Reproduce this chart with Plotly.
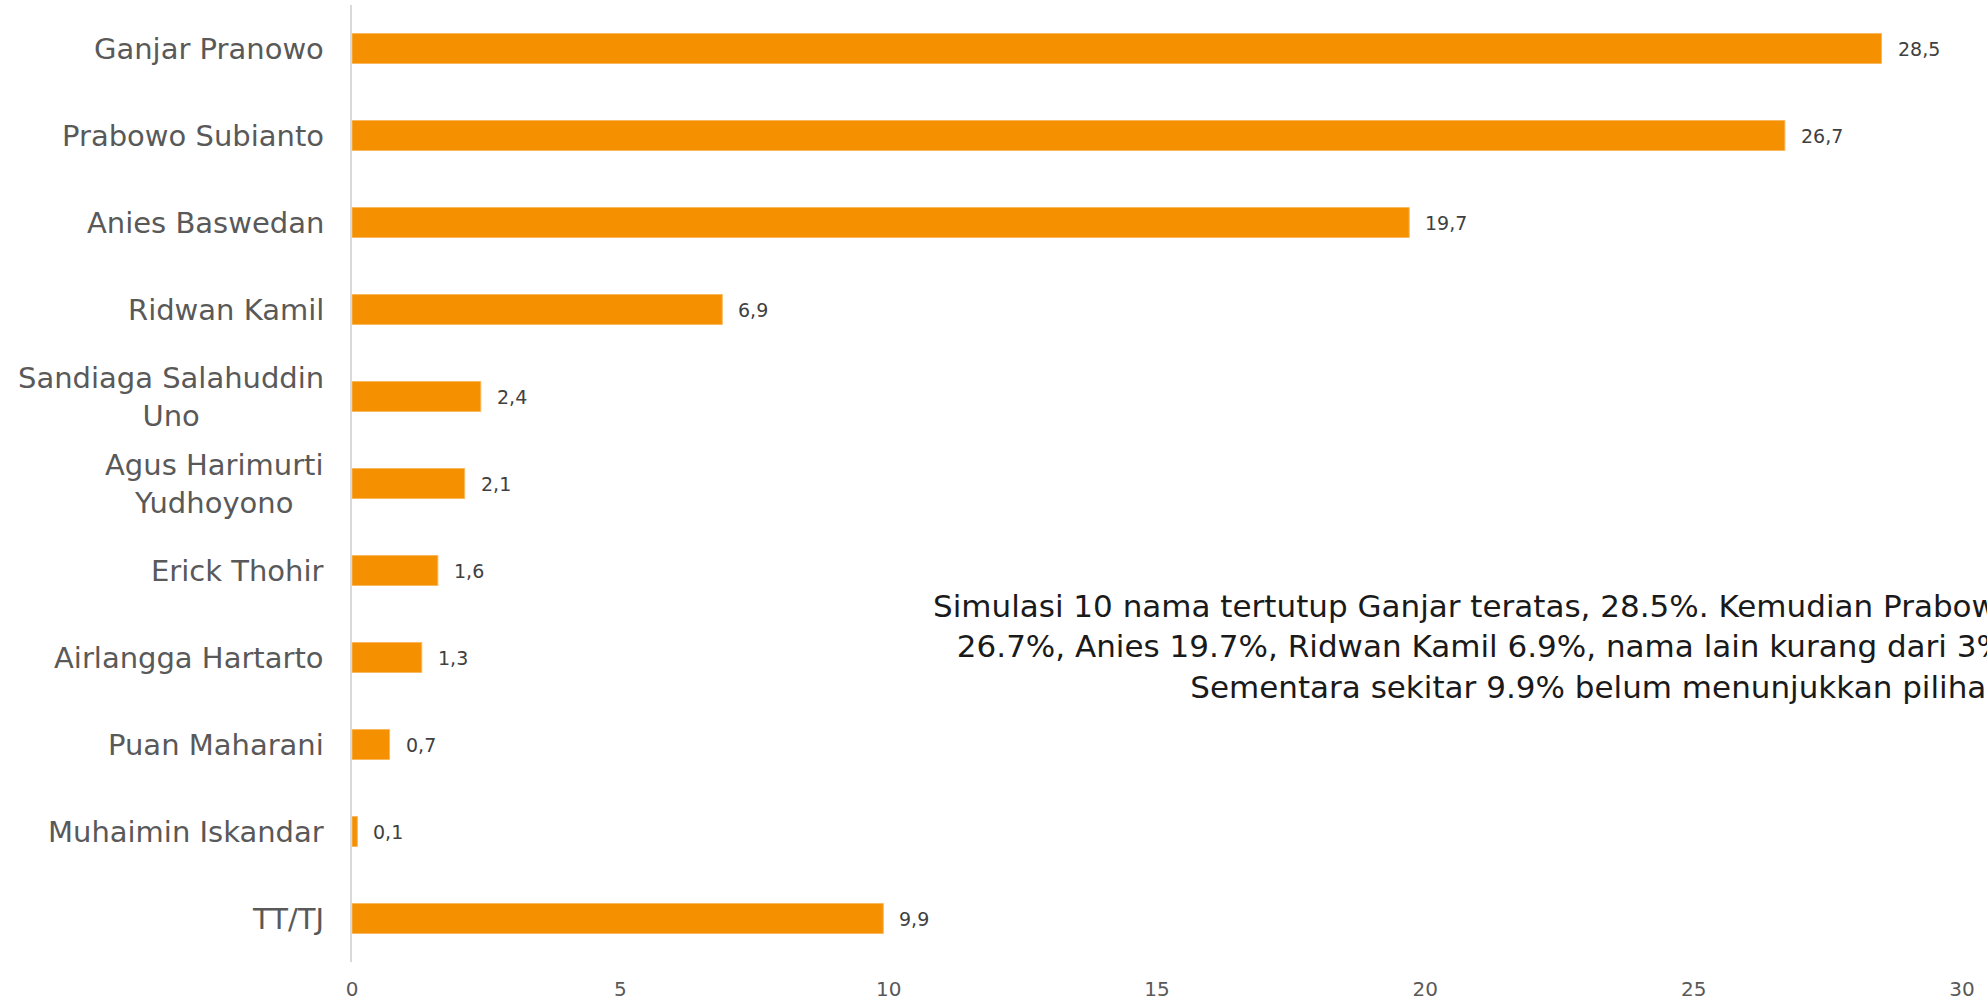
import plotly.graph_objects as go

categories = ["Ganjar Pranowo", "Prabowo Subianto", "Anies Baswedan", "Ridwan Kamil",
              "Sandiaga Salahuddin<br>Uno", "Agus Harimurti<br>Yudhoyono", "Erick Thohir",
              "Airlangga Hartarto", "Puan Maharani", "Muhaimin Iskandar", "TT/TJ"]
values = [28.5, 26.7, 19.7, 6.9, 2.4, 2.1, 1.6, 1.3, 0.7, 0.1, 9.9]
x_ticks = [0, 5, 10, 15, 20, 25, 30]
note_lines = ["Simulasi 10 nama tertutup Ganjar teratas, 28.5%. Kemudian Prabowo",
              "26.7%, Anies 19.7%, Ridwan Kamil 6.9%, nama lain kurang dari 3%.",
              "Sementara sekitar 9.9% belum menunjukkan pilihan."]

FONT = "DejaVu Sans"
BAR = "#F59100"

fig = go.Figure()
fig.add_trace(go.Bar(
    y=categories, x=values, orientation="h",
    marker=dict(color=BAR, line=dict(color="#F8B860", width=1)),
    hoverinfo="skip",
))

annotations = []
for c, v in zip(categories, values):
    annotations.append(dict(
        x=v, y=c, xref="x", yref="y", text=f"{v:.1f}".replace(".", ","),
        showarrow=False, xanchor="left", xshift=14,
        font=dict(family=FONT, size=19, color="#404040"),
    ))
    annotations.append(dict(
        x=0, y=c, xref="paper", yref="y", text=c,
        showarrow=False, xanchor="right", align="center", xshift=-26,
        font=dict(family=FONT, size=29, color="#595959"),
    ))
annotations.append(dict(
    x=1.035, y=0.33, xref="paper", yref="paper", xanchor="right", yanchor="middle",
    text="<br>".join(note_lines), align="right", showarrow=False,
    font=dict(family=FONT, size=31, color="#1a1a1a"),
))

fig.update_layout(
    width=1987, height=1000,
    margin=dict(l=352, r=25, t=5, b=38, autoexpand=False),
    paper_bgcolor="white", plot_bgcolor="white",
    bargap=0.655, showlegend=False,
    annotations=annotations,
    xaxis=dict(range=[0, 30], tickvals=x_ticks, showgrid=False, zeroline=False,
               showline=False, ticks="", automargin=False, ticklabelstandoff=13,
               tickfont=dict(family=FONT, size=20, color="#595959")),
    yaxis=dict(categoryorder="array", categoryarray=categories, autorange="reversed",
               showticklabels=False, showgrid=False, zeroline=False, automargin=False,
               showline=True, linecolor="#D9D9D9", linewidth=2, ticks=""),
)

fig.write_html("out.html", config={"displayModeBar": False},
               post_script="document.body.style.margin='0';")
